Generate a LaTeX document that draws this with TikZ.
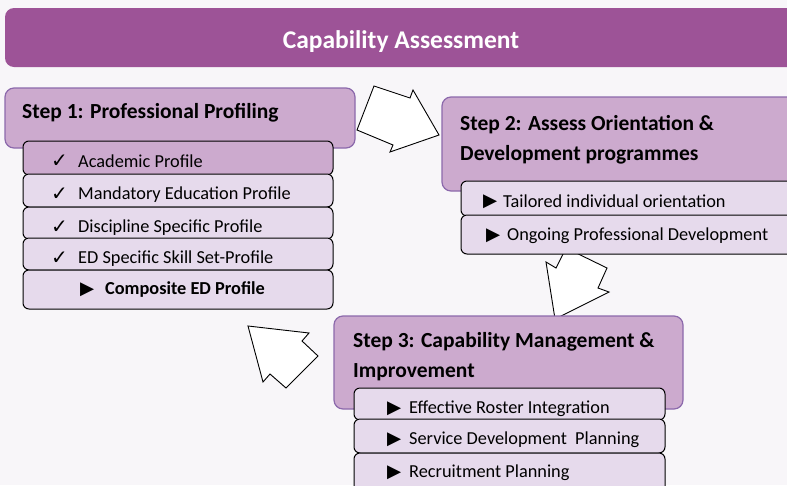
\documentclass[tikz,border=0pt]{standalone}
\usepackage{fontspec}
\setmainfont{Carlito}
\newfontfamily\symfont{DejaVu Sans}
\usetikzlibrary{positioning}
\definecolor{pagebg}{RGB}{248,246,249}
\definecolor{titlefill}{RGB}{157,83,151}
\definecolor{stepfill}{RGB}{204,170,206}
\definecolor{stepline}{RGB}{140,105,172}
\definecolor{itemfill}{RGB}{230,218,236}
\newcommand{\tick}{{\symfont\fontsize{20}{21}\selectfont\char"2713}}
\newcommand{\tri}{{\symfont\char"25B6}}

\begin{document}
\begin{tikzpicture}[x=1pt,y=-1pt,
  titlebar/.style={fill=titlefill, rounded corners=9pt},
  stepbox/.style={draw=stepline, fill=stepfill, line width=1.2pt, rounded corners=9pt},
  itembox/.style={draw=black, fill=itemfill, line width=1pt, rounded corners=6pt},
  blockarrow/.style={draw=black, fill=white, line width=0.9pt, line join=miter},
  titletext/.style={text=white, font=\fontsize{25.5}{30}\selectfont\bfseries, inner sep=0pt, yshift=-2pt},
  steptext/.style={anchor=west, align=left, font=\fontsize{21.5}{30}\selectfont\bfseries, inner sep=0pt, yshift=-2pt},
  itemtext/.style={anchor=west, font=\fontsize{18.3}{21}\selectfont, inner sep=0pt, yshift=-1.5pt}]
\clip (0,0) rectangle (787,485);
\fill[pagebg] (0,0) rectangle (787,485);

% title
\fill[titlebar] (5,8) rectangle (800,67);
\node[titletext] (title) at (401,40) {Capability Assessment};

%\draw[help lines] (0,0) grid[step=50] (787,485);

% block arrows
\draw[blockarrow] (374,86) -- (410,98) -- (413,90) -- (439,135) -- (390,152)
  -- (393,145) -- (357,130) -- cycle;
\draw[blockarrow] (566,248) -- (607,268) -- (598,288) -- (609,292) -- (555,319)
  -- (546,262) -- (556,268) -- cycle;
\draw[blockarrow] (248,326) -- (309,333) -- (302,341) -- (318,356) -- (286,388)
  -- (270,374) -- (263,382) -- cycle;

% step 1
\draw[stepbox] (5,88) rectangle (355,148);
\node[steptext] (s1) at (22,111) {Step 1: Professional Profiling};
\draw[itembox, fill=stepfill] (23,141) rectangle (333,175);
\draw[itembox] (23,174) rectangle (333,207);
\draw[itembox] (23,207) rectangle (333,239);
\draw[itembox] (23,238) rectangle (333,270);
\draw[itembox] (23,270) rectangle (333,309);
\node[itemtext] (a1) at (51,160) {\tick};
\node[itemtext] (a2) at (51,193) {\tick};
\node[itemtext] (a3) at (51,226) {\tick};
\node[itemtext] (a4) at (51,257) {\tick};
\node[itemtext] (a5) at (80,288) {\tri};
\node[itemtext] (t1) at (78,160) {Academic Profile};
\node[itemtext] (t2) at (78,193) {Mandatory Education Profile};
\node[itemtext] (t3) at (78,226) {Discipline Specific Profile};
\node[itemtext] (t4) at (78,257) {ED Specific Skill Set-Profile};
\node[itemtext, font=\fontsize{18.3}{21}\selectfont\bfseries] (t5) at (105,288) {Composite ED Profile};

% step 2
\draw[stepbox] (442,97) rectangle (800,191);
\node[steptext] (s2) at (460,138) {Step 2: Assess Orientation \&\\Development programmes};
\draw[itembox] (461,181) rectangle (800,216);
\draw[itembox] (461,215) rectangle (800,254);
\node[itemtext] (b1) at (483,200) {\tri};
\node[itemtext] (b2) at (486,234) {\tri};
\node[itemtext] (u1) at (503,200) {Tailored individual orientation};
\node[itemtext] (u2) at (507,234) {Ongoing Professional Development};

% step 3
\draw[stepbox] (334,316) rectangle (683,409);
\node[steptext] (s3) at (353,355) {Step 3: Capability Management \&\\Improvement};
\draw[itembox] (354,388) rectangle (665,420);
\draw[itembox] (354,419) rectangle (665,453);
\draw[itembox] (354,453) rectangle (665,500);
\node[itemtext] (c1) at (387,407) {\tri};
\node[itemtext] (c2) at (387,438) {\tri};
\node[itemtext] (c3) at (387,471) {\tri};
\node[itemtext] (v1) at (409,407) {Effective Roster Integration};
\node[itemtext] (v2) at (409,438) {Service Development\ \ Planning};
\node[itemtext] (v3) at (409,471) {Recruitment Planning};
\end{tikzpicture}
\end{document}
